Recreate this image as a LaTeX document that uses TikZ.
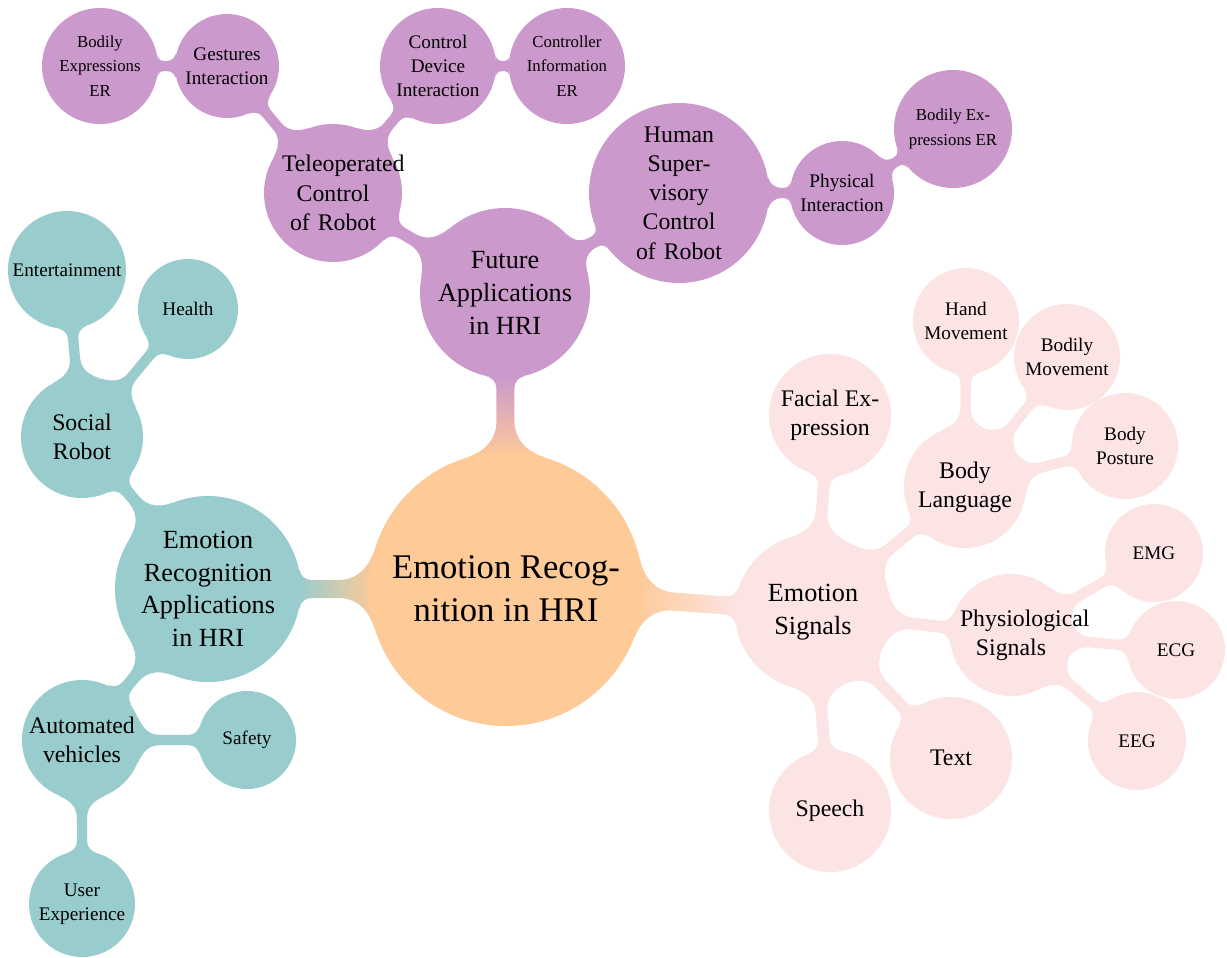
\documentclass[tikz,border=0pt]{standalone}
\usepackage{fontspec}
\setmainfont{Liberation Serif}
\usetikzlibrary{backgrounds}

\definecolor{cOrange}{RGB}{253,202,152}
\definecolor{cPur}{RGB}{204,153,204}
\definecolor{cTeal}{RGB}{153,204,204}
\definecolor{cPink}{RGB}{252,228,228}

% Point (#1,#2), given in pt, in the frame of a connection bar:
% origin at the start node, x axis pointing to the end node.
\def\nkq#1#2{([shift={(\nkfrom)},rotate=\nkang]#1pt,#2pt)}

% Geometry of a tapered connection bar between two circular nodes.
% #1 parent node, #2 child node, #3 half width of the bar (pt),
% #4 flare on the parent side (pt), #5 flare on the child side (pt)
\newcommand\nkgeom[5]{%
  \def\nkfrom{#1}%
  \pgfpointdiff{\pgfpointanchor{#1}{center}}{\pgfpointanchor{#2}{center}}%
  \pgfgetlastxy{\nkdx}{\nkdy}%
  \pgfmathsetmacro\nkang{atan2(\nkdy,\nkdx)}%
  \pgfmathsetmacro\nkd{veclen(\nkdx,\nkdy)}%
  \pgfpointdiff{\pgfpointanchor{#1}{center}}{\pgfpointanchor{#1}{north}}%
  \pgfgetlastxy{\nkdx}{\nkra}%
  \pgfpointdiff{\pgfpointanchor{#2}{center}}{\pgfpointanchor{#2}{north}}%
  \pgfgetlastxy{\nkdx}{\nkrb}%
  \pgfmathsetmacro\nkra{\nkra}%
  \pgfmathsetmacro\nkrb{\nkrb}%
  \pgfmathsetmacro\nkw{#3}%
  \pgfmathsetmacro\nkg{\nkd-\nkra-\nkrb}%
  \pgfmathsetmacro\nks{min(1,max(0.2,\nkg/(1.2*(#4+#5))))}%
  \pgfmathsetmacro\nkfa{#4*\nks}%
  \pgfmathsetmacro\nkfb{#5*\nks}%
  \pgfmathsetmacro\nkha{\nkw+\nkfa}%
  \pgfmathsetmacro\nkhb{\nkw+\nkfb}%
  \pgfmathsetmacro\nkxa{sqrt(\nkra*\nkra-\nkha*\nkha)}%
  \pgfmathsetmacro\nkxb{\nkd-sqrt(\nkrb*\nkrb-\nkhb*\nkhb)}%
  \pgfmathsetmacro\nksa{\nkxa+1.2*\nkfa}%
  \pgfmathsetmacro\nksb{\nkxb-1.2*\nkfb}%
  \pgfmathsetmacro\nkmid{(\nksa+\nksb)/2}%
  \pgfmathsetmacro\nksa{min(\nksa,\nkmid)}%
  \pgfmathsetmacro\nksb{max(\nksb,\nkmid)}%
  \pgfmathsetmacro\nkka{0.55*\nkfa}%
  \pgfmathsetmacro\nkkb{0.55*\nkfb}%
  \pgfmathsetmacro\nkca{\nksa-0.66*\nkfa}%
  \pgfmathsetmacro\nkcb{\nksb+0.66*\nkfb}%
  \pgfmathsetmacro\nkpax{\nkxa+\nkka*\nkha/\nkra}%
  \pgfmathsetmacro\nkpay{\nkha-\nkka*\nkxa/\nkra}%
  \pgfmathsetmacro\nkpbx{\nkxb-\nkkb*\nkhb/\nkrb}%
  \pgfmathsetmacro\nkpby{\nkhb-\nkkb*(\nkd-\nkxb)/\nkrb}%
  \pgfmathsetmacro\nkshang{\nkang+90}%
  \edef\nkpathtxt{\nkq{\nkxa}{\nkha} .. controls \nkq{\nkpax}{\nkpay} and \nkq{\nkca}{\nkw} .. \nkq{\nksa}{\nkw}
    -- \nkq{\nksb}{\nkw} .. controls \nkq{\nkcb}{\nkw} and \nkq{\nkpbx}{\nkpby} .. \nkq{\nkxb}{\nkhb}
    -- \nkq{\nkxb}{-\nkhb} .. controls \nkq{\nkpbx}{-\nkpby} and \nkq{\nkcb}{-\nkw} .. \nkq{\nksb}{-\nkw}
    -- \nkq{\nksa}{-\nkw} .. controls \nkq{\nkca}{-\nkw} and \nkq{\nkpax}{-\nkpay} .. \nkq{\nkxa}{-\nkha} -- cycle}%
}
% bar in one colour
\newcommand\neckbar[6]{\nkgeom{#1}{#2}{#3}{#4}{#5}\edef\nkcmd{\noexpand\fill[#6] \nkpathtxt;}\nkcmd}
% bar shading from the parent colour to the child colour
\newcommand\neckshade[7]{\nkgeom{#1}{#2}{#3}{#4}{#5}\edef\nkcmd{\noexpand\shade[top color=#6,bottom color=#7,shading angle=\nkshang] \nkpathtxt;}\nkcmd}

% bar sizes per level: half width, parent flare, child flare
\newcommand\rootbar[4]{\neckshade{#1}{#2}{4.5}{15}{5}{#3}{#4}}
\newcommand\onebar[3]{\neckbar{#1}{#2}{3}{11}{5}{#3}}
\newcommand\twobar[3]{\neckbar{#1}{#2}{2.6}{9}{4.5}{#3}}
\newcommand\threebar[3]{\neckbar{#1}{#2}{2.5}{6}{4}{#3}}

\begin{document}
\begin{tikzpicture}[x=0.5pt,y=-0.5pt,
  bub/.style={circle,inner sep=0pt,align=center,text=black,minimum size=#1pt},
  lvroot/.style={font=\fontsize{17.3}{21.5}\selectfont},
  lvone/.style={font=\fontsize{13.1}{16.3}\selectfont},
  lvtwo/.style={font=\fontsize{11.9}{14.6}\selectfont},
  lvthree/.style={font=\fontsize{9.6}{12.1}\selectfont},
  lvfour/.style={font=\fontsize{8.4}{12.2}\selectfont},
  wrap/.style={text width=51pt},
  orn/.style={fill=cOrange}, pur/.style={fill=cPur},
  tea/.style={fill=cTeal}, pnk/.style={fill=cPink}]

\useasboundingbox (0,0) rectangle (1227,958);
\begin{scope}[on background layer]
  \fill[white] (0,0) rectangle (1227,958);
\end{scope}

% centre
\node[bub=137,orn,lvroot] (root) at (506,589) {Emotion Recog-\\nition in HRI};

% applications of the future
\node[bub=85,pur,lvone] (future) at (505,293) {Future\\Applications\\in HRI};
\node[bub=69,pur,lvtwo,wrap] (tele) at (333,193) {Teleoperated\\Control\\of Robot};
\node[bub=90,pur,lvtwo,wrap] (human) at (679,193) {Human\\Super-\\visory\\Control\\of Robot};
\node[bub=52,pur,lvthree] (gest) at (227,66) {Gestures\\Interaction};
\node[bub=58,pur,lvfour] (bodyl) at (100,66) {Bodily\\Expressions\\ER};
\node[bub=58,pur,lvthree] (ctrldev) at (438,66) {Control\\Device\\Interaction};
\node[bub=58,pur,lvfour] (ctrlinfo) at (567,66) {Controller\\Information\\ER};
\node[bub=52,pur,lvthree] (phys) at (842,193) {Physical\\Interaction};
\node[bub=59,pur,lvfour] (bodyr) at (953,129) {Bodily Ex-\\pressions ER};

% applications
\node[bub=93,tea,lvone] (era) at (208,589) {Emotion\\Recognition\\Applications\\in HRI};
\node[bub=61,tea,lvtwo] (social) at (82,437) {Social\\Robot};
\node[bub=59,tea,lvthree] (entert) at (67,270) {Entertainment};
\node[bub=50,tea,lvthree] (health) at (188,309) {Health};
\node[bub=60,tea,lvtwo] (autoveh) at (82,740) {Automated\\vehicles};
\node[bub=49,tea,lvthree] (safety) at (247,740) {Safety};
\node[bub=53,tea,lvthree] (userexp) at (82,904) {User\\Experience};

% signals
\node[bub=78,pnk,lvone] (es) at (813,612) {Emotion\\Signals};
\node[bub=61,pnk,lvtwo] (facial) at (830,415) {Facial Ex-\\pression};
\node[bub=61,pnk,lvtwo] (bodylang) at (965,487) {Body\\Language};
\node[bub=53,pnk,lvthree] (hand) at (966,321) {Hand\\Movement};
\node[bub=53,pnk,lvthree] (bodmov) at (1067,357) {Bodily\\Movement};
\node[bub=53,pnk,lvthree] (posture) at (1125,446) {Body\\Posture};
\node[bub=61,pnk,lvtwo,wrap] (physio) at (1011,635) {Physiological\\Signals};
\node[bub=49,pnk,lvthree] (emg) at (1154,553) {EMG};
\node[bub=49,pnk,lvthree] (ecg) at (1176,650) {ECG};
\node[bub=49,pnk,lvthree] (eeg) at (1137,741) {EEG};
\node[bub=61,pnk,lvtwo] (txt) at (951,758) {Text};
\node[bub=61,pnk,lvtwo] (speech) at (830,811) {Speech};

% connection bars, behind the circles
\begin{scope}[on background layer]
  \rootbar{root}{future}{cOrange}{cPur}
  \rootbar{root}{era}{cOrange}{cTeal}
  \rootbar{root}{es}{cOrange}{cPink}

  \onebar{future}{tele}{cPur}
  \onebar{future}{human}{cPur}
  \twobar{tele}{gest}{cPur}
  \twobar{tele}{ctrldev}{cPur}
  \twobar{human}{phys}{cPur}
  \threebar{gest}{bodyl}{cPur}
  \threebar{ctrldev}{ctrlinfo}{cPur}
  \threebar{phys}{bodyr}{cPur}

  \onebar{era}{social}{cTeal}
  \onebar{era}{autoveh}{cTeal}
  \twobar{social}{entert}{cTeal}
  \twobar{social}{health}{cTeal}
  \twobar{autoveh}{safety}{cTeal}
  \twobar{autoveh}{userexp}{cTeal}

  \onebar{es}{facial}{cPink}
  \onebar{es}{bodylang}{cPink}
  \onebar{es}{physio}{cPink}
  \onebar{es}{txt}{cPink}
  \onebar{es}{speech}{cPink}
  \twobar{bodylang}{hand}{cPink}
  \twobar{bodylang}{bodmov}{cPink}
  \twobar{bodylang}{posture}{cPink}
  \twobar{physio}{emg}{cPink}
  \twobar{physio}{ecg}{cPink}
  \twobar{physio}{eeg}{cPink}
\end{scope}
\end{tikzpicture}
\end{document}
